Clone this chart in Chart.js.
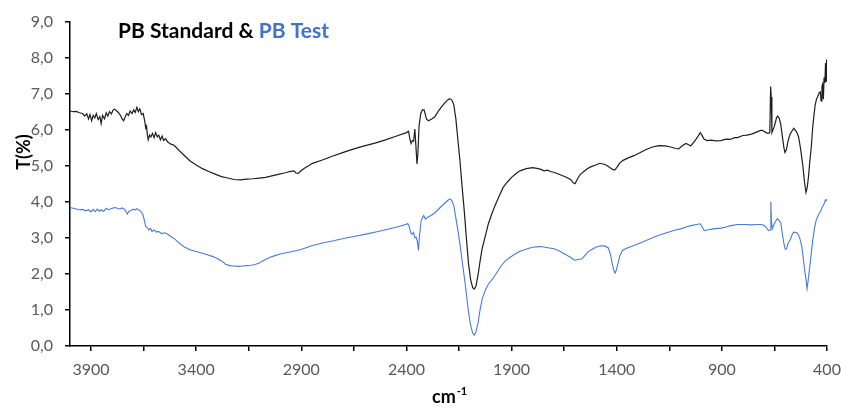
<!DOCTYPE html>
<html>
<head>
<meta charset="utf-8">
<script src="https://cdn.jsdelivr.net/npm/chart.js@4/dist/chart.umd.min.js"></script>
<style>
  html, body { margin: 0; padding: 0; background: #fff; }
  #wrap { width: 841px; height: 408px; position: relative; }
</style>
</head>
<body>
<div id="wrap"><canvas id="irChart"></canvas></div>
<script>
// PB Standard (black) - wavenumber (cm-1) and T(%)
var stdWn = [4000,3985,3970,3955,3940,3930,3920,3912,3905,3897,3890,3882,3875,3866,3858,3852,3845,3836,3828,3820,3812,3803,3795,3787,3778,3770,3760,3752,3745,3738,3730,3722,3714,3705,3697,3690,3682,3675,3668,3660,3652,3645,3640,3636,3632,3628,3622,3615,3608,3600,3593,3585,3578,3570,3562,3555,3545,3535,3520,3505,3490,3470,3450,3430,3400,3370,3340,3310,3280,3250,3220,3190,3160,3130,3100,3070,3040,3010,2980,2955,2935,2925,2915,2900,2880,2865,2850,2800,2750,2700,2650,2600,2550,2500,2450,2400,2390,2384,2378,2372,2366,2360,2355,2350,2346,2340,2332,2324,2316,2305,2295,2280,2265,2250,2235,2220,2205,2195,2185,2175,2165,2155,2145,2135,2125,2115,2105,2095,2085,2078,2070,2060,2050,2040,2025,2010,1995,1980,1960,1940,1920,1900,1880,1860,1830,1800,1780,1760,1746,1730,1715,1700,1680,1660,1640,1620,1605,1598,1590,1575,1555,1540,1524,1500,1480,1465,1450,1435,1420,1410,1400,1385,1370,1345,1318,1290,1260,1230,1200,1170,1143,1120,1105,1090,1071,1060,1048,1030,1015,1003,995,985,970,950,930,905,880,860,840,825,800,780,760,740,725,710,700,690,680,672,668,665,662,650,640,635,628,620,612,605,600,593,585,575,565,558,550,543,535,525,515,507,500,494,488,482,475,468,462,457,450,444,437,432,428,424,421,417,414,410,407,404,402,400];
var stdT = [6.52,6.50,6.51,6.47,6.45,6.38,6.44,6.30,6.42,6.25,6.40,6.33,6.45,6.28,6.36,6.17,6.40,6.30,6.47,6.38,6.50,6.44,6.55,6.57,6.52,6.48,6.40,6.30,6.25,6.35,6.45,6.40,6.52,6.45,6.55,6.48,6.62,6.50,6.58,6.42,6.45,6.25,6.05,6.10,5.85,5.72,5.85,5.80,5.90,5.78,5.92,5.80,5.85,5.72,5.82,5.70,5.75,5.66,5.60,5.57,5.48,5.36,5.25,5.14,5.02,4.92,4.84,4.77,4.70,4.66,4.62,4.61,4.63,4.64,4.66,4.68,4.72,4.76,4.80,4.84,4.86,4.80,4.79,4.87,4.95,5.00,5.06,5.16,5.27,5.37,5.47,5.55,5.63,5.72,5.82,5.92,5.96,5.75,5.62,5.70,5.68,6.02,5.55,5.05,5.30,6.10,6.45,6.55,6.55,6.30,6.25,6.30,6.36,6.50,6.62,6.73,6.82,6.86,6.83,6.70,6.30,5.70,5.10,4.40,3.75,3.00,2.30,1.85,1.62,1.58,1.65,1.95,2.35,2.70,3.05,3.40,3.65,3.88,4.15,4.40,4.55,4.68,4.78,4.86,4.92,4.95,4.93,4.90,4.86,4.88,4.84,4.82,4.78,4.73,4.68,4.62,4.52,4.50,4.60,4.75,4.85,4.92,4.97,5.02,5.07,5.05,5.02,4.96,4.90,4.88,4.95,5.08,5.15,5.22,5.28,5.36,5.45,5.52,5.56,5.55,5.52,5.48,5.47,5.55,5.62,5.59,5.55,5.68,5.80,5.92,5.85,5.74,5.70,5.71,5.69,5.70,5.74,5.73,5.78,5.78,5.84,5.85,5.88,5.92,5.96,5.99,5.96,5.92,5.90,5.92,7.20,6.90,5.92,6.10,6.33,6.38,6.33,6.15,5.80,5.50,5.37,5.45,5.70,5.88,5.98,6.04,5.98,5.92,5.80,5.45,5.00,4.55,4.26,4.40,4.70,5.10,5.50,6.06,6.40,6.66,6.85,6.92,7.03,7.05,6.80,7.20,7.26,6.85,7.45,7.30,7.85,7.35,7.95,7.60];

// PB Test (blue)
var testWn = [4000,3985,3970,3955,3940,3925,3912,3900,3890,3880,3870,3860,3852,3840,3828,3818,3808,3795,3787,3775,3765,3752,3740,3732,3727,3720,3710,3700,3690,3684,3675,3668,3660,3652,3645,3640,3632,3625,3618,3610,3600,3590,3580,3565,3550,3535,3520,3500,3486,3460,3430,3400,3375,3350,3320,3300,3280,3260,3240,3220,3200,3180,3160,3140,3120,3100,3080,3063,3040,3000,2960,2905,2850,2800,2746,2700,2650,2587,2540,2490,2440,2400,2394,2388,2380,2373,2366,2360,2354,2348,2343,2338,2330,2322,2318,2310,2302,2290,2270,2250,2235,2222,2205,2194,2185,2175,2165,2155,2145,2135,2125,2115,2105,2095,2085,2078,2070,2060,2050,2040,2025,2010,1990,1970,1950,1930,1905,1889,1860,1825,1800,1780,1762,1740,1720,1698,1670,1650,1635,1615,1600,1585,1565,1550,1535,1520,1500,1476,1455,1440,1430,1421,1414,1408,1402,1394,1385,1373,1350,1318,1280,1238,1200,1159,1120,1095,1070,1048,1020,1003,995,984,970,940,905,880,857,825,790,760,730,714,700,690,678,670,667,664,660,650,640,635,628,620,612,605,598,592,585,575,565,559,548,540,530,521,514,508,500,495,490,484,476,468,460,452,444,436,429,420,413,408,404,400];
var testT = [3.84,3.82,3.80,3.78,3.79,3.75,3.78,3.72,3.79,3.73,3.80,3.74,3.78,3.73,3.82,3.78,3.80,3.83,3.84,3.82,3.80,3.83,3.79,3.72,3.66,3.74,3.76,3.80,3.77,3.81,3.78,3.76,3.71,3.62,3.45,3.32,3.28,3.22,3.26,3.18,3.22,3.16,3.18,3.12,3.14,3.10,3.04,2.96,2.88,2.76,2.67,2.62,2.58,2.54,2.48,2.43,2.36,2.27,2.23,2.22,2.21,2.22,2.23,2.24,2.26,2.30,2.37,2.42,2.48,2.55,2.60,2.67,2.78,2.86,2.92,2.98,3.04,3.11,3.17,3.24,3.31,3.38,3.40,3.34,3.15,3.10,3.15,3.00,3.02,2.90,2.65,3.05,3.48,3.58,3.62,3.52,3.56,3.60,3.67,3.78,3.87,3.94,4.03,4.08,4.04,3.90,3.55,3.20,2.80,2.35,1.92,1.45,0.95,0.58,0.36,0.30,0.38,0.62,1.00,1.30,1.55,1.72,1.86,2.04,2.22,2.36,2.47,2.53,2.63,2.70,2.74,2.75,2.76,2.74,2.72,2.70,2.63,2.56,2.51,2.44,2.38,2.40,2.42,2.52,2.62,2.67,2.74,2.78,2.77,2.72,2.55,2.28,2.10,2.02,2.10,2.30,2.50,2.65,2.72,2.79,2.88,2.98,3.07,3.15,3.22,3.25,3.30,3.34,3.37,3.39,3.32,3.20,3.22,3.25,3.27,3.30,3.34,3.37,3.37,3.36,3.37,3.37,3.35,3.30,3.20,3.22,4.00,3.45,3.25,3.40,3.50,3.53,3.48,3.42,3.10,2.85,2.68,2.70,2.85,2.95,3.10,3.16,3.15,3.13,3.00,2.79,2.50,2.19,1.85,1.59,1.80,2.10,2.50,2.93,3.25,3.48,3.60,3.68,3.76,3.88,3.95,4.05,4.03,4.08];

var xTicks = [3900,3650,3400,3150,2900,2650,2400,2150,1900,1650,1400,1150,900,650,400];
var xLabels = [3900,3400,2900,2400,1900,1400,900,400];
var yTicks = [0,1,2,3,4,5,6,7,8,9];

function toPoints(xs, ys) {
    var pts = [];
    for (var i = 0; i < xs.length; i++) pts.push({x: xs[i], y: ys[i]});
    return pts;
}

var FONT = "Lato, 'Open Sans', sans-serif";

// title and axis titles, drawn as text
var textPlugin = {
    id: 'irText',
    afterDraw: function(chart) {
        var ctx = chart.ctx;
        ctx.save();
        ctx.textBaseline = 'middle';
        ctx.textAlign = 'left';
        ctx.font = "bold 21px " + FONT;
        var part1 = "PB Standard & ";
        var x0 = 118;
        ctx.fillStyle = '#000';
        ctx.fillText(part1, x0, 31);
        ctx.fillStyle = '#4472C4';
        ctx.fillText("PB Test", x0 + ctx.measureText(part1).width, 31);

        // y title
        ctx.save();
        ctx.translate(24, 152);
        ctx.rotate(-Math.PI / 2);
        ctx.textAlign = 'center';
        ctx.fillStyle = '#000';
        ctx.font = "bold 18px " + FONT;
        ctx.fillText("T(%)", 0, 0);
        ctx.restore();

        // x title cm-1
        ctx.fillStyle = '#000';
        ctx.font = "bold 18px " + FONT;
        ctx.textBaseline = 'alphabetic';
        var cmW = ctx.measureText("cm").width;
        ctx.fillText("cm", 432, 403);
        ctx.font = "bold 11px " + FONT;
        ctx.fillText("-1", 432 + cmW + 1, 395);
        ctx.restore();
    }
};

var ctx = document.getElementById('irChart').getContext('2d');
var irChart = new Chart(ctx, {
    type: 'line',
    data: {
        datasets: [{
            label: 'PB Standard',
            data: toPoints(stdWn, stdT),
            borderColor: '#1e1e1e',
            borderWidth: 1.2,
            pointRadius: 0,
            tension: 0
        }, {
            label: 'PB Test',
            data: toPoints(testWn, testT),
            borderColor: '#4a7bd4',
            borderWidth: 1.1,
            pointRadius: 0,
            tension: 0
        }]
    },
    options: {
        responsive: true,
        maintainAspectRatio: false,
        animation: false,
        parsing: false,
        layout: { padding: { top: 20, right: 14, left: 0, bottom: 0 } },
        plugins: {
            legend: { display: false },
            title: { display: false },
            tooltip: { enabled: false }
        },
        scales: {
            x: {
                type: 'linear',
                reverse: true,
                min: 400,
                max: 4000,
                afterBuildTicks: function(scale) {
                    scale.ticks = xTicks.map(function(v) { return {value: v}; });
                },
                afterFit: function(scale) {
                    scale.height = 62;
                    scale.paddingLeft = 0;
                    scale.paddingRight = 0;
                },
                border: { color: '#000', width: 1.5 },
                grid: { drawOnChartArea: false, drawTicks: true, tickLength: 5, color: '#000', lineWidth: 1.5 },
                ticks: {
                    autoSkip: false,
                    maxRotation: 0,
                    padding: 9,
                    color: '#595959',
                    font: { family: FONT, size: 16 },
                    callback: function(v) { return xLabels.indexOf(v) >= 0 ? String(v) : ''; }
                }
            },
            y: {
                min: 0,
                max: 9,
                afterBuildTicks: function(scale) {
                    scale.ticks = yTicks.map(function(v) { return {value: v}; });
                },
                afterFit: function(scale) { scale.width = 70; },
                border: { color: '#000', width: 1.5 },
                grid: { drawOnChartArea: false, drawTicks: true, tickLength: 5, color: '#000', lineWidth: 1.5 },
                ticks: {
                    padding: 12,
                    color: '#595959',
                    font: { family: FONT, size: 16 },
                    callback: function(v) { return v.toFixed(1).replace('.', ','); }
                }
            }
        }
    },
    plugins: [textPlugin]
});
</script>
</body>
</html>
